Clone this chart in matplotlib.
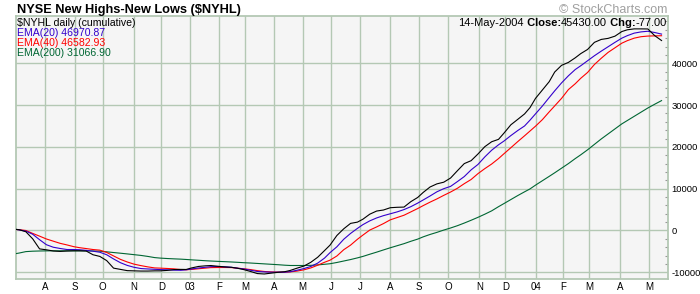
import matplotlib
matplotlib.use("Agg")
import matplotlib.pyplot as plt
from matplotlib.ticker import MultipleLocator, FixedLocator, FixedFormatter
import pandas as pd

# ---------------- data ----------------
week_dates = [
    "2002-07-01", "2002-07-05", "2002-07-12", "2002-07-19", "2002-07-26",
    "2002-08-02", "2002-08-09", "2002-08-16", "2002-08-23", "2002-08-30",
    "2002-09-06", "2002-09-13", "2002-09-20", "2002-09-27",
    "2002-10-04", "2002-10-11", "2002-10-18", "2002-10-25",
    "2002-11-01", "2002-11-08", "2002-11-15", "2002-11-22", "2002-11-29",
    "2002-12-06", "2002-12-13", "2002-12-20", "2002-12-27",
    "2003-01-03", "2003-01-10", "2003-01-17", "2003-01-24", "2003-01-31",
    "2003-02-07", "2003-02-14", "2003-02-21", "2003-02-28",
    "2003-03-07", "2003-03-14", "2003-03-21", "2003-03-28",
    "2003-04-04", "2003-04-11", "2003-04-17", "2003-04-25",
    "2003-05-02", "2003-05-09", "2003-05-16", "2003-05-23", "2003-05-30",
    "2003-06-06", "2003-06-13", "2003-06-20", "2003-06-27",
    "2003-07-03", "2003-07-11", "2003-07-18", "2003-07-25",
    "2003-08-01", "2003-08-08", "2003-08-15", "2003-08-22", "2003-08-29",
    "2003-09-05", "2003-09-12", "2003-09-19", "2003-09-26",
    "2003-10-03", "2003-10-10", "2003-10-17", "2003-10-24", "2003-10-31",
    "2003-11-07", "2003-11-14", "2003-11-21", "2003-11-28",
    "2003-12-05", "2003-12-12", "2003-12-19", "2003-12-26",
    "2004-01-02", "2004-01-09", "2004-01-16", "2004-01-23", "2004-01-30",
    "2004-02-06", "2004-02-13", "2004-02-20", "2004-02-27",
    "2004-03-05", "2004-03-12", "2004-03-19", "2004-03-26",
    "2004-04-02", "2004-04-08", "2004-04-16", "2004-04-23", "2004-04-30",
    "2004-05-07", "2004-05-14",
]

nyhl_close = [
    300, 200, -300, -2000, -4400,
    -4620, -4900, -5000, -4900, -4850,
    -4850, -4900, -5800, -6200,
    -7200, -9000, -9300, -9600,
    -9650, -9700, -9700, -9650, -9650,
    -9550, -9350, -9300, -9320,
    -8950, -8600, -8450, -8380, -8550,
    -8700, -8800, -9000, -9350,
    -9800, -10300, -10400, -10200,
    -10000, -9850, -9550, -9000,
    -8500, -7600, -6400, -4800, -3500,
    -1200, 400, 1700, 2000,
    2700, 3900, 4650, 4900,
    5450, 5550, 5600, 6900, 7900,
    9100, 10400, 11150, 11550,
    12550, 14300, 16000, 16700, 18300,
    20050, 21230, 21800, 23300,
    25280, 26570, 27880, 29400,
    31600, 33600, 35600, 37900, 39500,
    40200, 41300, 42300, 43300,
    45000, 45700, 45950, 46480,
    47580, 48000, 48220, 48220, 48200,
    46600, 45430,
]

ema20 = [
    300, 150, -150, -900, -2200,
    -3400, -4000, -4300, -4550, -4550,
    -4600, -4750, -4950, -5200,
    -5800, -6800, -7700, -8350,
    -8800, -9100, -9200, -9280, -9350,
    -9400, -9480, -9520, -9400,
    -9200, -8970, -8800, -8650, -8620,
    -8680, -8800, -9000, -9200,
    -9500, -9800, -9900, -9970,
    -9970, -9970, -9850, -9500,
    -9100, -8600, -7800, -6600, -5300,
    -3900, -2100, -700, 500,
    1400, 2300, 3000, 3550,
    4000, 4450, 5000, 5700, 6550,
    7300, 8250, 9250, 10000,
    10550, 11700, 12900, 14500, 15800,
    17600, 19200, 20500, 21400,
    22700, 23900, 25000, 26400,
    27900, 29770, 31800, 33400, 35300,
    37000, 38500, 39400, 40600,
    41800, 42900, 43950, 45000,
    46000, 46600, 47200, 47500, 47650,
    47350, 46970.87,
]

ema40 = [
    250, 200, 0, -700, -1350,
    -2030, -2550, -3070, -3450, -3870,
    -4100, -4320, -4550, -4700,
    -5250, -6080, -6900, -7530,
    -8050, -8400, -8700, -8950, -9000,
    -9080, -9170, -9350, -9400,
    -9300, -9150, -9000, -8880, -8850,
    -8850, -8870, -9000, -9150,
    -9350, -9600, -9800, -9900,
    -9950, -9970, -9900, -9700,
    -9400, -8950, -8300, -7600, -7100,
    -6100, -4600, -3500, -2100,
    -1100, 100, 850, 1650,
    2550, 3100, 3650, 4450, 5250,
    5950, 6780, 7550, 8400,
    9200, 10100, 11200, 12200, 13600,
    14800, 15900, 17200, 18370,
    19800, 21250, 22650, 23800,
    24950, 26510, 28370, 29800, 31600,
    33700, 35100, 36400, 37800,
    39700, 41200, 42600, 43700,
    44800, 45400, 46000, 46350, 46500,
    46550, 46582.93,
]

ema200 = [
    -5570, -5400, -5050, -4950, -4900,
    -4870, -4860, -4860, -4860, -4860,
    -4860, -4880, -4900, -4950,
    -5100, -5270, -5430, -5600,
    -5780, -5960, -6200, -6480, -6600,
    -6700, -6780, -6850, -6930,
    -7020, -7120, -7230, -7300, -7380,
    -7450, -7530, -7600, -7700,
    -7780, -7880, -7980, -8080,
    -8180, -8300, -8370, -8370,
    -8370, -8330, -8230, -8080, -7950,
    -7650, -7300, -6950, -6550,
    -6200, -5680, -5180, -4650,
    -4130, -3640, -3150, -2580, -2060,
    -1520, -950, -450, 100,
    600, 1150, 1780, 2450, 3150,
    3900, 4700, 5700, 6450,
    7400, 8350, 9250, 9950,
    10850, 11900, 12950, 13800, 14900,
    16000, 17200, 18100, 19300,
    20600, 21900, 23100, 24300,
    25500, 26300, 27300, 28300, 29300,
    30200, 31066.90,
]

month_starts = [
    "2002-08-01", "2002-09-01", "2002-10-01", "2002-11-01", "2002-12-01",
    "2003-01-01", "2003-02-01", "2003-03-01", "2003-04-01", "2003-05-01",
    "2003-06-01", "2003-07-01", "2003-08-01", "2003-09-01", "2003-10-01",
    "2003-11-01", "2003-12-01", "2004-01-01", "2004-02-01", "2004-03-01",
    "2004-04-01", "2004-05-01",
]
month_labels = ["A", "S", "O", "N", "D", "03", "F", "M", "A", "M", "J",
                "J", "A", "S", "O", "N", "D", "04", "F", "M", "A", "M"]

y_ticks = [-10000, 0, 10000, 20000, 30000, 40000]

nyse_holidays = [
    "2002-07-04", "2002-09-02", "2002-11-28", "2002-12-25",
    "2003-01-01", "2003-01-20", "2003-02-17", "2003-04-18", "2003-05-26",
    "2003-07-04", "2003-09-01", "2003-11-27", "2003-12-25",
    "2004-01-01", "2004-01-19", "2004-02-16", "2004-04-09", "2004-05-31",
]

title_text = "NYSE New Highs-New Lows ($NYHL)"
legend_rows = [("$NYHL daily (cumulative)", "#000000"),
               ("EMA(20) 46970.87", "#3300CC"),
               ("EMA(40) 46582.93", "#FF0000"),
               ("EMA(200) 31066.90", "#006633")]
info_pieces = [("14-May-2004", "normal"), (" Close:", "bold"),
               ("45430.00", "normal"), (" Chg:", "bold"), ("-77.00", "normal")]

# ---------------- trading-day axis ----------------
days = pd.bdate_range("2002-07-01", "2004-06-30", freq="C",
                      holidays=nyse_holidays)


def tindex(d):
    return int(days.searchsorted(pd.Timestamp(d)))


xs = [tindex(d) for d in week_dates]
month_x = [tindex(d) for d in month_starts]

# ---------------- figure ----------------
W, H = 700, 294
FONT = ["Liberation Sans", "DejaVu Sans"]
GRID = "#B4C8B4"

fig = plt.figure(figsize=(W / 100, H / 100), dpi=100, facecolor="white")
ax = fig.add_axes([16 / W, 1 - 279 / H, 652 / W, 263 / H])
ax.set_facecolor("#F5F5F5")

ax.set_xlim(0.8, 476.7)
ax.set_ylim(-11600, 51300)

for x in month_x:
    ax.axvline(x, color=GRID, lw=1.0, zorder=1)
for y in y_ticks:
    ax.axhline(y, color=GRID, lw=1.0, zorder=1)

lw = 0.8
ax.plot(xs, ema200, color="#006633", lw=lw, zorder=3)
ax.plot(xs, ema40, color="#FF0000", lw=lw, zorder=4)
ax.plot(xs, ema20, color="#3300CC", lw=lw, zorder=5)
ax.plot(xs, nyhl_close, color="#000000", lw=lw, zorder=6)

for sp in ax.spines.values():
    sp.set_color(GRID)
    sp.set_linewidth(1.3)

ax.xaxis.set_major_locator(FixedLocator(month_x))
ax.xaxis.set_major_formatter(FixedFormatter(month_labels))
ax.tick_params(axis="x", length=0, pad=2.2, labelsize=7)
for lab in ax.get_xticklabels():
    lab.set_family(FONT)

ax.yaxis.tick_right()
ax.set_yticks(y_ticks)
ax.set_yticklabels([str(v) for v in y_ticks])
ax.yaxis.set_minor_locator(MultipleLocator(2000))
ax.tick_params(axis="y", which="major", length=0, pad=2.5, labelsize=6.8)
ax.tick_params(axis="y", which="minor", direction="in", length=2.5,
               width=0.8, color="#999999")
for lab in ax.get_yticklabels():
    lab.set_family(FONT)

# ---------------- texts ----------------
fig.text(17 / W, 1 - 13.3 / H, title_text, ha="left", va="baseline",
         fontsize=9.2, fontweight="bold", family=FONT, color="black")
fig.text(667 / W, 1 - 13.3 / H, "\u00a9 StockCharts.com", ha="right",
         va="baseline", fontsize=9.0, family=FONT, color="#A0A0A0")

for k, (txt, col) in enumerate(legend_rows):
    fig.text(17.3 / W, 1 - (26 + 10 * k) / H, txt, ha="left", va="baseline",
             fontsize=7.6, family=FONT, color=col)

renderer = fig.canvas.get_renderer()
xpos = 666.5
for txt, wt in reversed(info_pieces):
    t = fig.text(xpos / W, 1 - 26 / H, txt, ha="right", va="baseline",
                 fontsize=8.0, fontweight=wt, family=FONT, color="black")
    xpos -= t.get_window_extent(renderer=renderer).width

fig.savefig("out.png", dpi=100, facecolor="white")
